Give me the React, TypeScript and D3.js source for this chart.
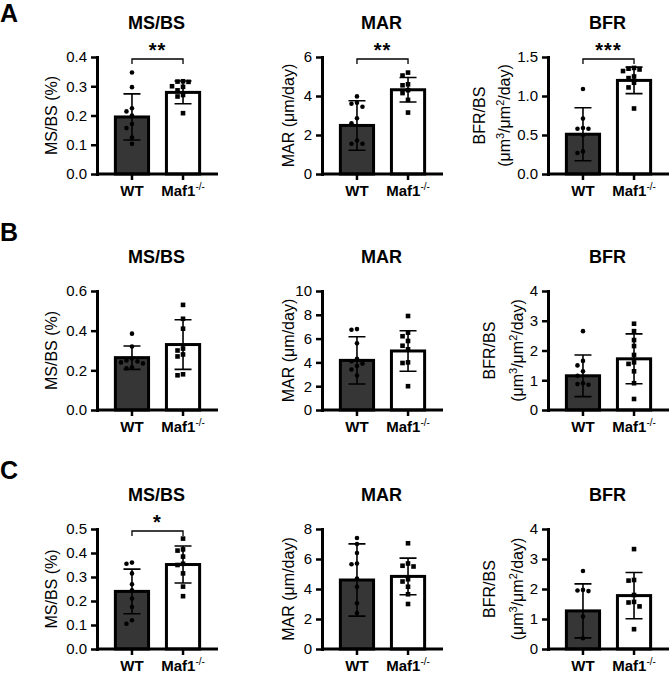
import React, { useEffect, useRef } from 'react';
import * as d3 from 'd3';

// groups and panel titles
const groups = ['WT', 'Maf1'];
const rowLetters = ['A', 'B', 'C'];
const metricTitles = ['MS/BS', 'MAR', 'BFR'];

// individual values per metric (MS/BS, MAR, BFR)
const rowA_wt = [
    [0.347, 0.297, 0.225, 0.214, 0.2, 0.171, 0.157, 0.125, 0.103],
    [3.98, 3.65, 3.6, 3.45, 2.86, 2.6, 1.72, 1.55, 1.55],
    [1.09, 0.71, 0.59, 0.58, 0.58, 0.5, 0.29, 0.27]
];
const rowA_ko = [
    [0.317, 0.316, 0.315, 0.3, 0.298, 0.286, 0.27, 0.265, 0.208],
    [5.2, 5.05, 4.6, 4.55, 4.3, 4.15, 3.8, 3.15],
    [1.36, 1.35, 1.34, 1.32, 1.25, 1.23, 1.17, 1.11, 0.84]
];
const rowB_wt = [
    [0.385, 0.32, 0.26, 0.25, 0.245, 0.24, 0.235, 0.215, 0.21],
    [6.8, 6.75, 5.6, 4.3, 4.1, 3.9, 3.7, 3.4, 2.9],
    [2.65, 1.65, 1.5, 1.3, 1.15, 0.9, 0.87, 0.85]
];
const rowB_ko = [
    [0.53, 0.46, 0.41, 0.31, 0.3, 0.28, 0.27, 0.18, 0.175],
    [7.9, 6.5, 6.2, 5.8, 5.4, 5.1, 4.0, 3.95, 2.0],
    [2.9, 2.65, 2.35, 2.15, 1.85, 1.6, 1.55, 1.3, 0.9, 0.37]
];
const rowC_wt = [
    [0.36, 0.355, 0.315, 0.27, 0.245, 0.21, 0.175, 0.12, 0.105],
    [7.4, 7.0, 6.4, 5.7, 5.65, 4.7, 4.15, 3.05, 2.4],
    [2.6, 1.97, 1.95, 1.93, 1.08, 0.36]
];
const rowC_ko = [
    [0.46, 0.415, 0.41, 0.385, 0.355, 0.35, 0.315, 0.26, 0.22],
    [7.05, 5.7, 5.55, 5.5, 4.65, 4.5, 4.15, 3.65, 3.0],
    [3.33, 2.3, 2.28, 1.8, 1.57, 1.55, 1.42, 0.66]
];

// bar heights (mean) and error bars (SD), [WT, Maf1] per metric
const rowA_mean = [[0.195, 0.279], [2.49, 4.32], [0.51, 1.2]];
const rowA_sd = [[0.079, 0.039], [1.27, 0.63], [0.34, 0.17]];
const rowB_mean = [[0.264, 0.33], [4.17, 4.96], [1.15, 1.72]];
const rowB_sd = [[0.059, 0.125], [1.99, 1.7], [0.7, 0.84]];
const rowC_mean = [[0.24, 0.352], [4.6, 4.84], [1.27, 1.78]];
const rowC_sd = [[0.093, 0.077], [2.41, 1.22], [0.9, 0.77]];

// significance marks
const rowA_sig = ['**', '**', '***'];
const rowB_sig = ['', '', ''];
const rowC_sig = ['*', '', ''];

// y tick values per metric
const rowA_ticks = [[0, 0.1, 0.2, 0.3, 0.4], [0, 2, 4, 6], [0, 0.5, 1.0, 1.5]];
const rowB_ticks = [[0, 0.2, 0.4, 0.6], [0, 2, 4, 6, 8, 10], [0, 1, 2, 3, 4]];
const rowC_ticks = [[0, 0.1, 0.2, 0.3, 0.4, 0.5], [0, 2, 4, 6, 8], [0, 1, 2, 3, 4]];
const rowA_fmt = ['.1f', 'd', '.1f'];
const rowB_fmt = ['.1f', 'd', 'd'];
const rowC_fmt = ['.1f', 'd', 'd'];

const rows = [
    { wt: rowA_wt, ko: rowA_ko, mean: rowA_mean, sd: rowA_sd, sig: rowA_sig, ticks: rowA_ticks, fmt: rowA_fmt },
    { wt: rowB_wt, ko: rowB_ko, mean: rowB_mean, sd: rowB_sd, sig: rowB_sig, ticks: rowB_ticks, fmt: rowB_fmt },
    { wt: rowC_wt, ko: rowC_ko, mean: rowC_mean, sd: rowC_sd, sig: rowC_sig, ticks: rowC_ticks, fmt: rowC_fmt }
];

const FONT = '"Liberation Sans", Arial, Helvetica, sans-serif';

// simple beeswarm so the dots don't sit on top of each other
function swarm(values: number[], y: (v: number) => number, cx: number) {
    const placed: { x: number; y: number }[] = [];
    const d = 5.5;
    values.forEach((v) => {
        const py = y(v);
        for (let k = 0; k < 20; k++) {
            const off = k === 0 ? 0 : (k % 2 === 1 ? -1 : 1) * Math.ceil(k / 2) * d;
            const px = cx + off;
            if (placed.every((p) => Math.hypot(p.x - px, p.y - py) >= d)) {
                placed.push({ x: px, y: py });
                break;
            }
        }
    });
    return placed;
}

export default function App() {
    const ref = useRef<HTMLDivElement>(null);

    useEffect(() => {
        if (!ref.current) return;
        ref.current.innerHTML = '';

        const width = 670;
        const height = 673;
        const rowTop = [57, 291, 529];
        const rowH = [117, 119, 120];
        const colX = [97, 322, 548];
        const plotW = 121;
        const letterBase = [22, 241, 479];
        // y label centre offsets from the axis (one or two lines)
        const labelDx = [
            [[-46], [-34], [-69, -44]],
            [[-46], [-34], [-59, -31]],
            [[-46], [-34], [-59, -31]]
        ];

        const svg = d3
            .create('svg')
            .attr('width', width)
            .attr('height', height)
            .attr('viewBox', [0, 0, width, height])
            .attr('style', `position:absolute;left:0;top:0;background:white;font-family:${FONT}`);

        rows.forEach((row, ri) => {
            svg.append('text')
                .attr('x', 0)
                .attr('y', letterBase[ri])
                .attr('font-size', 25)
                .attr('font-weight', 'bold')
                .attr('fill', '#000')
                .text(rowLetters[ri]);

            metricTitles.forEach((title, ci) => {
                const x0 = colX[ci];
                const top = rowTop[ri];
                const bottom = top + rowH[ri];
                const ticks = row.ticks[ci];
                const y = d3.scaleLinear().domain([0, ticks[ticks.length - 1]]).range([bottom, top]);
                const x = d3.scaleBand<string>().domain(groups).range([x0, x0 + plotW]).paddingInner(0.35).paddingOuter(0.36);
                const g = svg.append('g');

                // title
                g.append('text')
                    .attr('x', x0 + plotW / 2 - 1)
                    .attr('y', top - 28)
                    .attr('text-anchor', 'middle')
                    .attr('font-size', 18)
                    .attr('font-weight', 'bold')
                    .text(title);

                // bars
                groups.forEach((grp, gi) => {
                    g.append('rect')
                        .attr('x', x(grp)!)
                        .attr('y', y(row.mean[ci][gi]))
                        .attr('width', x.bandwidth())
                        .attr('height', y(0) - y(row.mean[ci][gi]))
                        .attr('fill', gi === 0 ? '#363636' : '#fff')
                        .attr('stroke', '#000')
                        .attr('stroke-width', 3);
                });

                // error bars
                groups.forEach((grp, gi) => {
                    const cx = x(grp)! + x.bandwidth() / 2;
                    const m = row.mean[ci][gi];
                    const s = row.sd[ci][gi];
                    const hi = y(m + s);
                    const lo = y(Math.max(0, m - s));
                    g.append('path')
                        .attr('d', `M${cx},${hi}V${lo}M${cx - 8.5},${hi}H${cx + 8.5}M${cx - 8.5},${lo}H${cx + 8.5}`)
                        .attr('stroke', '#000')
                        .attr('stroke-width', 1.6)
                        .attr('fill', 'none');
                });

                // dots
                groups.forEach((grp, gi) => {
                    const cx = x(grp)! + x.bandwidth() / 2;
                    const vals = gi === 0 ? row.wt[ci] : row.ko[ci];
                    const pts = swarm(vals, y, cx);
                    if (gi === 0) {
                        g.selectAll(null)
                            .data(pts)
                            .join('circle')
                            .attr('cx', (p) => p.x)
                            .attr('cy', (p) => p.y)
                            .attr('r', 2.3)
                            .attr('fill', '#000');
                    } else {
                        g.selectAll(null)
                            .data(pts)
                            .join('rect')
                            .attr('x', (p) => p.x - 2.3)
                            .attr('y', (p) => p.y - 2.3)
                            .attr('width', 4.6)
                            .attr('height', 4.6)
                            .attr('fill', '#000');
                    }
                });

                // y axis
                g.append('g')
                    .attr('transform', `translate(${x0},0)`)
                    .call(
                        d3
                            .axisLeft(y)
                            .tickValues(ticks)
                            .tickFormat((d) => d3.format(row.fmt[ci])(d as number))
                            .tickSize(6)
                            .tickSizeOuter(0)
                            .tickPadding(4)
                    )
                    .call((a) => a.select('.domain').attr('stroke-width', 3).attr('stroke-linecap', 'square'))
                    .call((a) => a.selectAll('.tick line').attr('stroke-width', 2.5))
                    .call((a) =>
                        a.selectAll('.tick text').attr('font-size', 15).attr('font-family', FONT).attr('fill', '#000')
                    );

                // x axis line + ticks at bar centres
                g.append('path')
                    .attr('d', `M${x0},${bottom}H${x0 + plotW}`)
                    .attr('stroke', '#000')
                    .attr('stroke-width', 3);
                groups.forEach((grp) => {
                    const cx = x(grp)! + x.bandwidth() / 2;
                    g.append('line')
                        .attr('x1', cx)
                        .attr('x2', cx)
                        .attr('y1', bottom)
                        .attr('y2', bottom + 6)
                        .attr('stroke', '#000')
                        .attr('stroke-width', 2.5);
                });

                // x labels
                const wtX = x('WT')! + x.bandwidth() / 2;
                const koX = x('Maf1')! + x.bandwidth() / 2;
                g.append('text')
                    .attr('x', wtX)
                    .attr('y', bottom + 22)
                    .attr('text-anchor', 'middle')
                    .attr('font-size', 15)
                    .attr('font-weight', 'bold')
                    .text('WT');
                const ko = g
                    .append('text')
                    .attr('x', koX)
                    .attr('y', bottom + 22)
                    .attr('text-anchor', 'middle')
                    .attr('font-size', 15)
                    .attr('font-weight', 'bold');
                ko.append('tspan').text('Maf1');
                ko.append('tspan').attr('dy', -6).attr('font-size', 10).attr('font-weight', 'normal').text('-/-');

                // y axis label
                const cy = (top + bottom) / 2;
                const dxs = labelDx[ri][ci];
                if (ci < 2) {
                    g.append('text')
                        .attr('transform', `translate(${x0 + dxs[0]},${cy}) rotate(-90)`)
                        .attr('dy', '0.35em')
                        .attr('text-anchor', 'middle')
                        .attr('font-size', 16)
                        .text(ci === 0 ? 'MS/BS (%)' : 'MAR (μm/day)');
                } else {
                    g.append('text')
                        .attr('transform', `translate(${x0 + dxs[0]},${cy}) rotate(-90)`)
                        .attr('dy', '0.35em')
                        .attr('text-anchor', 'middle')
                        .attr('font-size', 16)
                        .text('BFR/BS');
                    const l2 = g
                        .append('text')
                        .attr('transform', `translate(${x0 + dxs[1]},${cy}) rotate(-90)`)
                        .attr('dy', '0.35em')
                        .attr('text-anchor', 'middle')
                        .attr('font-size', 16);
                    l2.append('tspan').text('(μm');
                    l2.append('tspan').attr('dy', -6).attr('font-size', 11).text('3');
                    l2.append('tspan').attr('dy', 6).text('/μm');
                    l2.append('tspan').attr('dy', -6).attr('font-size', 11).text('2');
                    l2.append('tspan').attr('dy', 6).text('/day)');
                }

                // significance bracket
                const sig = row.sig[ci];
                if (sig) {
                    const by = top + 2;
                    g.append('path')
                        .attr('d', `M${wtX},${by + 5}V${by}H${koX}V${by + 5}`)
                        .attr('stroke', '#000')
                        .attr('stroke-width', 1.3)
                        .attr('fill', 'none');
                    g.append('text')
                        .attr('x', (wtX + koX) / 2)
                        .attr('y', by - 14 + 11.5)
                        .attr('text-anchor', 'middle')
                        .attr('font-size', 20)
                        .attr('font-weight', 'bold')
                        .attr('letter-spacing', 1)
                        .text(sig);
                }
            });
        });

        ref.current.appendChild(svg.node()!);
    }, []);

    return <div ref={ref} />;
}
